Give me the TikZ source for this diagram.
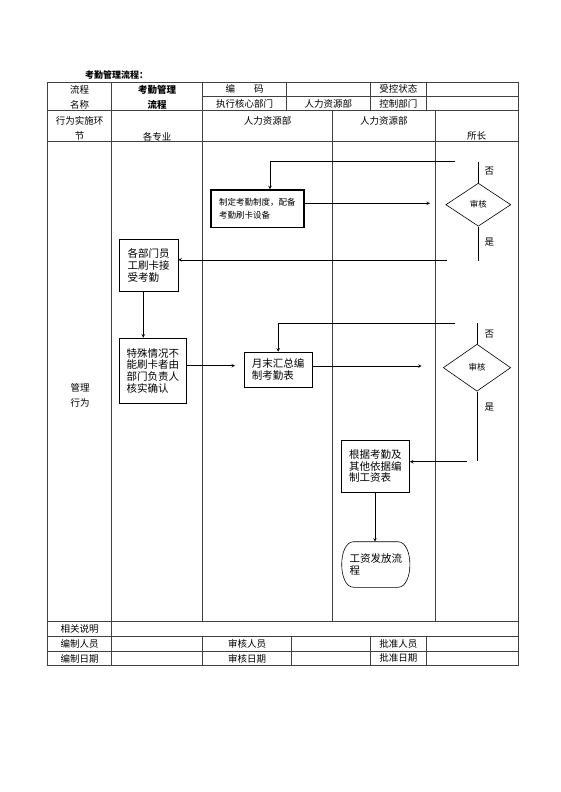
\documentclass[tikz,border=0pt]{standalone}
\usepackage{fontspec}
\setmainfont{Noto Sans CJK SC}
\usetikzlibrary{shapes.geometric}

\begin{document}
\begin{tikzpicture}[x=1pt, y=-1pt, >=stealth,
    biaoge/.style={black!75, line width=0.6pt},
    wenzi/.style={font=\fontsize{9.5}{11}\selectfont, inner sep=0pt},
    kuang/.style={draw, anchor=north west, align=left, inner sep=0pt, line width=0.6pt, font=\fontsize{10.5}{11.7}\selectfont},
    panduan/.style={diamond, draw, inner sep=0pt, line width=0.6pt, font=\fontsize{8.5}{9}\selectfont},
    xian/.style={line width=0.6pt},
    jiantou/.style={->, line width=0.6pt}]

    \useasboundingbox (0,0) rectangle (560,792);

    % 标题
    \node[wenzi, font=\fontsize{9}{11}\selectfont\bfseries, anchor=west] (biaoti) at (85,75) {考勤管理流程：};

    % 表格外框与横线
    \draw[biaoge] (47,82) rectangle (518,665);
    \draw[biaoge] (202.7,96.5) -- (518,96.5);
    \foreach \y in {110.5,141.5,621.7,636.7,651.7}
        \draw[biaoge] (47,\y) -- (518,\y);

    % 竖线
    \draw[biaoge] (111.7,82) -- (111.7,665);
    \draw[biaoge] (202.7,82) -- (202.7,621.7);
    \draw[biaoge] (202.7,636.7) -- (202.7,665);
    \foreach \x in {286.7,370,426.7}
        \draw[biaoge] (\x,82) -- (\x,110.5);
    \foreach \x in {332.7,435}
        \draw[biaoge] (\x,110.5) -- (\x,621.7);
    \foreach \x in {291.7,370,426.7}
        \draw[biaoge] (\x,636.7) -- (\x,665);

    % 表头文字
    \node[wenzi] (liucheng) at (79.5,90.3) {流程};
    \node[wenzi] (mingcheng) at (79.5,104.8) {名称};
    \node[wenzi, font=\fontsize{9.5}{11}\selectfont\bfseries] (kaoqin) at (157,90.3) {考勤管理};
    \node[wenzi, font=\fontsize{9.5}{11}\selectfont\bfseries] (kaoqinb) at (157,104.8) {流程};
    \node[wenzi] (bianma) at (244.7,89.3) {编　　码};
    \node[wenzi] (shoukong) at (398.3,89.3) {受控状态};
    \node[wenzi] (zhixing) at (244.7,103.5) {执行核心部门};
    \node[wenzi] (renli) at (328.3,103.5) {人力资源部};
    \node[wenzi] (kongzhi) at (398.3,103.5) {控制部门};
    \node[wenzi] (xingwei) at (79.5,120.7) {行为实施环};
    \node[wenzi] (xingweib) at (79.5,136) {节};
    \node[wenzi] (gezhuanye) at (157,136.5) {各专业};
    \node[wenzi] (renlia) at (267.7,120.7) {人力资源部};
    \node[wenzi] (renlib) at (383.8,120.7) {人力资源部};
    \node[wenzi] (suozhang) at (476.6,136) {所长};
    \node[wenzi] (guanli) at (80,388) {管理};
    \node[wenzi] (guanlib) at (80,403) {行为};

    % 表尾文字
    \node[wenzi] (xiangguan) at (79.5,629.2) {相关说明};
    \node[wenzi] (bianzhi) at (79.5,644.2) {编制人员};
    \node[wenzi] (bianzhirq) at (79.5,658.4) {编制日期};
    \node[wenzi] (shenheren) at (247.2,644.2) {审核人员};
    \node[wenzi] (shenherq) at (247.2,658.4) {审核日期};
    \node[wenzi] (pizhunren) at (398.3,644.2) {批准人员};
    \node[wenzi] (pizhunrq) at (398.3,658.4) {批准日期};

    % 流程框
    \node[kuang, line width=1.5pt, font=\fontsize{8.5}{12.7}\selectfont, minimum width=93pt, minimum height=37.4pt] (zhiding) at (210,189.3) {制定考勤制度，配备\\考勤刷卡设备};
    \node[kuang, minimum width=58.7pt, minimum height=51.7pt] (shuaka) at (119,239.3) {各部门员\\工刷卡接\\受考勤};
    \node[kuang, minimum width=67pt, minimum height=65.6pt] (teshu) at (119,337.7) {特殊情况不\\能刷卡者由\\部门负责人\\核实确认};
    \node[kuang, minimum width=67.7pt, minimum height=35.6pt] (huizong) at (244,351.7) {月末汇总编\\制考勤表};
    \node[kuang, minimum width=68.3pt, minimum height=51.7pt] (gongzi) at (341,440) {根据考勤及\\其他依据编\\制工资表};
    \node[kuang, draw=none, minimum width=67.6pt, minimum height=45pt] (fafang) at (341.7,541.7) {工资发放流\\程};
    % 终止框两侧弧边
    \draw[xian] ([xshift=12pt]fafang.north west) -- ([xshift=-12pt]fafang.north east)
        .. controls ([xshift=4pt]fafang.north east) and ([xshift=4pt]fafang.south east) .. ([xshift=-12pt]fafang.south east)
        -- ([xshift=12pt]fafang.south west)
        .. controls ([xshift=-4pt]fafang.south west) and ([xshift=-4pt]fafang.north west) .. cycle;

    % 审核判断
    \node[panduan, minimum width=65pt, minimum height=43pt] (shenhe1) at (478.3,204.7) {审核};
    \node[panduan, minimum width=67.4pt, minimum height=47pt] (shenhe2) at (477,367.7) {审核};
    \node[wenzi] (fou1) at (489.3,171.2) {否};
    \node[wenzi] (shi1) at (489.3,241.7) {是};
    \node[wenzi] (fou2) at (489.3,334) {否};
    \node[wenzi] (shi2) at (489.3,406.7) {是};

    % 辅助点
    \coordinate (d1) at (430,203.3);
    \coordinate (f1) at (455,161);
    \coordinate (f1s) at (477.3,161.7);
    \coordinate (r1) at (270,0);
    \coordinate (s1) at (477.3,260.7);
    \coordinate (s1h) at (446.7,259.8);
    \coordinate (jt1) at (143.3,0);
    \coordinate (d2) at (235,365.7);
    \coordinate (f2) at (455,323.3);
    \coordinate (f2s) at (477,323.3);
    \coordinate (d3) at (421.7,366);
    \coordinate (s2) at (477,461);
    \coordinate (s2h) at (466.7,461.7);
    \coordinate (jt2) at (375,0);

    % 连线
    \draw[jiantou] (zhiding.east |- d1) -- (d1);
    \draw[xian] (shenhe1.north) -- (shenhe1.north |- f1s);
    \draw[jiantou] (f1) -| (zhiding.north -| r1);
    \draw[xian] (shenhe1.south) -- (shenhe1.south |- s1);
    \draw[jiantou] (s1h) -- (shuaka.east |- s1h);
    \draw[jiantou] (shuaka.south -| jt1) -- (teshu.north -| jt1);
    \draw[jiantou] (teshu.east |- d2) -- (d2);
    \draw[xian] (shenhe2.north) -- (f2s);
    \draw[jiantou] (f2) -| (huizong.north);
    \draw[jiantou] (huizong.east |- d3) -- (d3);
    \draw[xian] (shenhe2.south) -- (s2);
    \draw[jiantou] (s2h) -- (gongzi.east |- s2h);
    \draw[jiantou] (gongzi.south -| jt2) -- (fafang.north -| jt2);
\end{tikzpicture}
\end{document}
